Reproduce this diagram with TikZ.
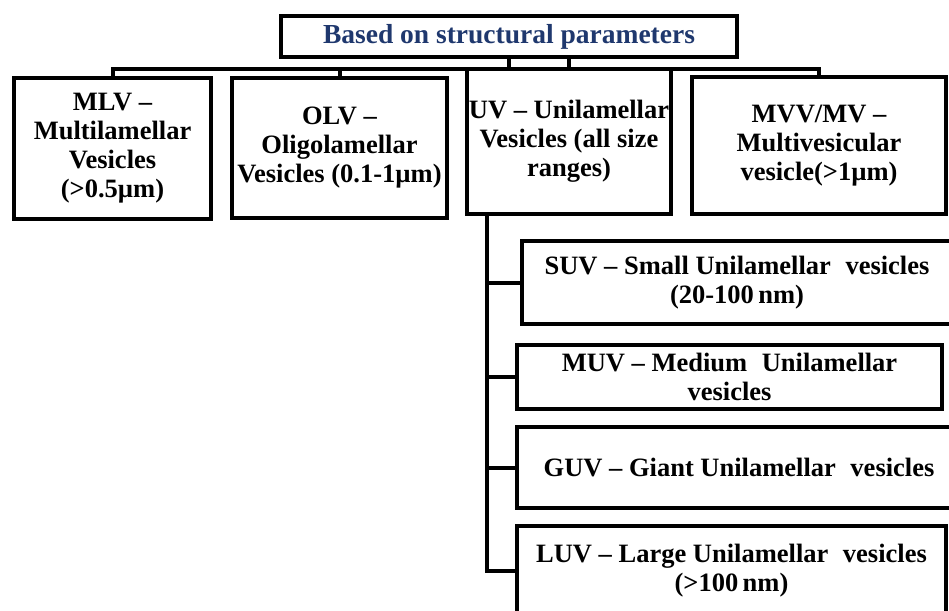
\documentclass[tikz,border=0pt]{standalone}
\usepackage{fontspec}
\setmainfont{Liberation Serif}
\definecolor{navy}{RGB}{31,56,110}
\begin{document}
\begin{tikzpicture}[x=1pt,y=-1pt,
  box/.style={draw=black, line width=4.5pt, fill=white, inner sep=0pt, align=center,
    font=\fontsize{26.5}{29}\selectfont\bfseries},
  titlebox/.style={box, text=navy, font=\fontsize{27.5}{30}\selectfont\bfseries},
  conn/.style={draw=black, line width=4pt, line cap=rect}]
\useasboundingbox (0,0) rectangle (949,610);
\clip (0,0) rectangle (949,610);
\coordinate (bus) at (509,69);
\coordinate (trunk) at (487,214);
% boxes
\node[titlebox, minimum width=456, minimum height=41] (title) at (509,36.5) {Based on structural parameters};
\node[box, minimum width=197, minimum height=141] (mlv) at (112.5,148.5) {MLV --\\Multilamellar\\Vesicles\\(>0.5µm)};
\node[box, minimum width=215, minimum height=140] (olv) at (339.5,148) {OLV --\\Oligolamellar\\Vesicles (0.1-1µm)};
\node[box, minimum width=204, minimum height=145] (uv) at (569,141.5) {UV -- Unilamellar\\Vesicles (all size\\ranges)};
\node[box, minimum width=254, minimum height=137] (mvv) at (819,145.5) {MVV/MV --\\Multivesicular\\vesicle(>1µm)};
\node[box, minimum width=430, minimum height=83] (suv) at (737,282.5) {SUV -- Small Unilamellar\hspace{0.3em} vesicles\\(20-100\,nm)};
\node[box, minimum width=425, minimum height=64] (muv) at (729.5,377) {MUV -- Medium\hspace{0.3em} Unilamellar\\vesicles};
\node[box, minimum width=444, minimum height=81] (guv) at (739,467.5) {GUV -- Giant Unilamellar\hspace{0.3em} vesicles};
\node[box, minimum width=429, minimum height=90] (luv) at (731.5,571) {LUV -- Large Unilamellar\hspace{0.3em} vesicles\\(>100\,nm)};
% connectors
\draw[conn] (mlv.north) |- (bus) -| (mvv.north);
\draw[conn] (olv.north) -- (olv.north |- bus);
\draw[conn] (title.south) -- (bus);
\draw[conn] (title.south -| uv.north) -- (uv.north);
\draw[conn] (uv.south -| trunk) -- (luv.west -| trunk);
\draw[conn] (suv.west -| trunk) -- (suv.west);
\draw[conn] (muv.west -| trunk) -- (muv.west);
\draw[conn] (guv.west -| trunk) -- (guv.west);
\draw[conn] (luv.west -| trunk) -- (luv.west);
\end{tikzpicture}
\end{document}
